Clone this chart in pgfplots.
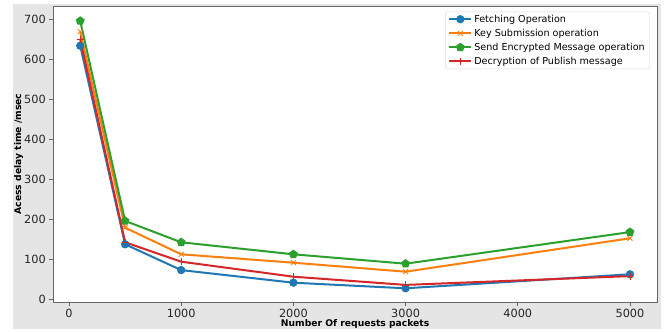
\documentclass[border=0pt]{standalone}
\usepackage{pgfplots}
\pgfplotsset{compat=1.18}
\usepackage{fontspec}
\setmainfont{DejaVu Sans}
\definecolor{figgray}{RGB}{229,229,229}
\definecolor{tabblue}{HTML}{1F77B4}
\definecolor{taborange}{HTML}{FF7F0E}
\definecolor{tabgreen}{HTML}{2CA02C}
\definecolor{tabred}{HTML}{D62728}
\begin{document}
\begin{tikzpicture}[x=1bp,y=1bp]
\fill[white] (0,0) rectangle (664,329);
\fill[figgray] (13,0) rectangle (661,325);
\begin{axis}[
  at={(53.3bp,27bp)}, anchor=south west,
  width=603.7bp, height=296bp, scale only axis,
  xmin=-140, xmax=5241, ymin=-6.75, ymax=733.25,
  axis background/.style={fill=white},
  axis line style={black!60, line width=0.6bp},
  xtick={0,1000,2000,3000,4000,5000},
  ytick={0,100,200,300,400,500,600,700},
  tick align=outside, tick pos=left,
  major tick length=4bp,
  every tick/.style={black!60, line width=0.6bp},
  /pgf/number format/assume math mode=true,
  /pgf/number format/1000 sep={},
  tick label style={font=\fontsize{11.3bp}{13bp}\selectfont, text=black!85},
  xlabel={\textbf{Number Of requests packets}},
  ylabel={\textbf{Acess delay time /msec}},
  label style={font=\fontsize{9.2bp}{11bp}\selectfont},
  xlabel style={at={(axis description cs:0.5,0)}, anchor=north, yshift=-14bp},
  ylabel style={at={(axis description cs:-0.0575,0.5)}, anchor=center},
  legend style={at={(0.649,0.981)}, anchor=north west,
    draw=black!15, rounded corners=2bp, fill=white,
    font=\fontsize{9.6bp}{11.5bp}\selectfont, row sep=1.3bp,
    inner xsep=3bp, inner ysep=1bp},
  legend cell align=left,
  legend image code/.code={
    \draw[mark repeat=2,mark phase=2] plot coordinates {(0bp,0bp) (11bp,0bp) (22bp,0bp)};
  },
  every axis plot/.append style={line width=2bp},
]
\addplot[color=tabblue, mark=*, mark size=3.1bp, mark options={solid}] coordinates {
  (100,634) (500,137.5) (1000,73) (2000,41.5) (3000,27.5) (5000,62.5)};
\addlegendentry{Fetching Operation}
\addplot[color=taborange, mark=x, mark size=3.5bp, mark options={line width=0.8bp}] coordinates {
  (100,669) (500,179) (1000,112.5) (2000,91.5) (3000,69) (5000,152.5)};
\addlegendentry{Key Submission operation}
\addplot[color=tabgreen, mark=pentagon*, mark size=3.4bp] coordinates {
  (100,696) (500,196) (1000,142.5) (2000,112.5) (3000,89) (5000,168)};
\addlegendentry{Send Encrypted Message operation}
\addplot[color=tabred, mark=+, mark size=3.5bp, mark options={line width=0.8bp}] coordinates {
  (100,650) (500,142.5) (1000,94) (2000,56.5) (3000,36) (5000,58)};
\addlegendentry{Decryption of Publish message}
\end{axis}
\end{tikzpicture}
\end{document}
